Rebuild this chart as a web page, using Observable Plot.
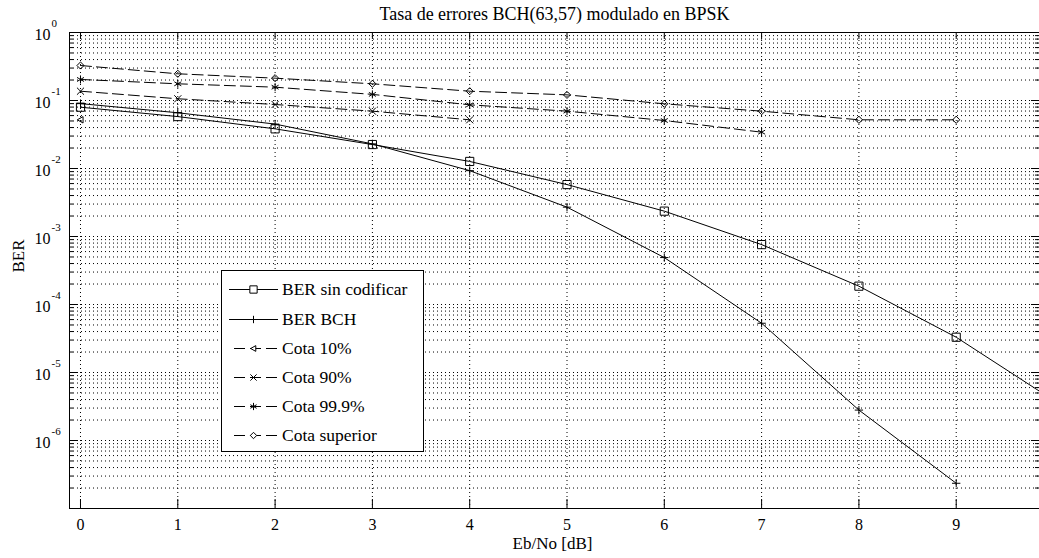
<!DOCTYPE html>
<html><head><meta charset="utf-8">
<script src="https://cdn.jsdelivr.net/npm/d3@7"></script>
<script src="https://cdn.jsdelivr.net/npm/@observablehq/plot@0.6"></script>
<style>
body{margin:0;background:#fff;}
#chart{position:relative;width:1039px;height:558px;overflow:hidden;}
#legend{position:absolute;left:221px;top:270px;}
</style></head><body><div id="chart"></div>
<script>
// ---- data ----
const ebno = [0, 1, 2, 3, 4, 5, 6, 7, 8, 9, 10];
const berUncoded = [0.0797, 0.058, 0.0383, 0.0225, 0.0127, 0.0058, 0.00236, 7.6e-4, 1.86e-4, 3.3e-5, 3.9e-6];
const berBCH = [0.09, 0.066, 0.045, 0.023, 0.0093, 0.0027, 4.9e-4, 5.3e-5, 2.8e-6, 2.35e-7];
const cota10 = [0.052];
const cota90 = [0.137, 0.106, 0.0873, 0.0697, 0.052];
const cota999 = [0.204, 0.176, 0.157, 0.123, 0.0864, 0.0697, 0.0508, 0.0342];
const cotaSup = [0.327, 0.247, 0.213, 0.176, 0.137, 0.121, 0.0894, 0.0697, 0.052, 0.052];
const seriesNames = ["BER sin codificar", "BER BCH", "Cota 10%", "Cota 90%", "Cota 99.9%", "Cota superior"];
const xTicks = [0, 1, 2, 3, 4, 5, 6, 7, 8, 9];
const yExponents = [0, -1, -2, -3, -4, -5, -6];
const titleText = "Tasa de errores BCH(63,57) modulado en BPSK";
const xLabelText = "Eb/No [dB]";
const yLabelText = "BER";

// ---- layout / style ----
const W = 1039, H = 558;
const mL = 69, mR = 0, mT = 32, mB = 50;
const xDomain = [-0.113, 9.856];
const yDomain = [1e-7, 1];
const innerW = W - mL - mR, innerH = H - mT - mB;
const FONT = "'Liberation Serif', 'Times New Roman', serif";
const DASH = "11,5";
const GRID_DASH = "1,3";

const triLeft = {
  draw(ctx, size) {
    const r = Math.sqrt(size / Math.PI);
    ctx.moveTo(-r, 0);
    ctx.lineTo(r * 0.8, -r);
    ctx.lineTo(r * 0.8, r);
    ctx.closePath();
  }
};

const series = [
  {name: seriesNames[0], values: berUncoded, dash: null, symbol: "square2", r: 5.2},
  {name: seriesNames[1], values: berBCH, dash: null, symbol: "plus", r: 2.8},
  {name: seriesNames[2], values: cota10, dash: DASH, symbol: triLeft, r: 3.2},
  {name: seriesNames[3], values: cota90, dash: DASH, symbol: "times", r: 3.3},
  {name: seriesNames[4], values: cota999, dash: DASH, symbol: "asterisk", r: 3.8},
  {name: seriesNames[5], values: cotaSup, dash: DASH, symbol: "diamond2", r: 3.2}
];
const d3symbols = {square2: d3.symbolSquare2, plus: d3.symbolPlus, times: d3.symbolTimes, asterisk: d3.symbolAsterisk, diamond2: d3.symbolDiamond2};

const rowsOf = s => s.values.map((v, i) => ({x: ebno[i], y: v}));

// log grid values
const majorY = yExponents.concat([-7]).map(e => 10 ** e);
const minorY = [];
for (let e = -7; e < 0; e++) for (let m = 2; m <= 9; m++) minorY.push(m * 10 ** e);
const gridY = majorY.concat(minorY);

const marks = [];
// grid
marks.push(Plot.ruleY(gridY, {stroke: "#000", strokeWidth: 1, strokeDasharray: GRID_DASH}));
marks.push(Plot.ruleX(xTicks, {stroke: "#000", strokeWidth: 1, strokeDasharray: GRID_DASH}));
// series
for (const s of series) {
  const rows = rowsOf(s);
  marks.push(Plot.line(rows, {x: "x", y: "y", stroke: "#000", strokeWidth: 1, strokeDasharray: s.dash, clip: true}));
  marks.push(Plot.dot(rows, {x: "x", y: "y", symbol: () => s.symbol, r: s.r, fill: "none", stroke: "#000", strokeWidth: 1, clip: true}));
}
// ticks (inward, MATLAB style)
marks.push(Plot.ruleY(majorY, {insetRight: innerW - 8, stroke: "#000"}));
marks.push(Plot.ruleY(minorY, {insetRight: innerW - 4, stroke: "#000"}));
marks.push(Plot.ruleY(majorY, {insetLeft: innerW - 8, stroke: "#000"}));
marks.push(Plot.ruleY(minorY, {insetLeft: innerW - 4, stroke: "#000"}));
marks.push(Plot.ruleX(xTicks, {insetTop: innerH - 9, stroke: "#000"}));
marks.push(Plot.ruleX(xTicks, {insetBottom: innerH - 7, stroke: "#000"}));
// axis box (left, top, bottom)
marks.push(Plot.ruleY([yDomain[1], yDomain[0]], {stroke: "#000"}));
marks.push(Plot.ruleX([xDomain[0]], {stroke: "#000"}));
// x tick labels
marks.push(Plot.text(xTicks, {x: d => d, frameAnchor: "bottom", lineAnchor: "bottom", dy: 21, text: d => String(d), fontSize: 16, fontFamily: FONT, fill: "#000"}));
// y tick labels 10^e
marks.push(Plot.text(yExponents, {y: e => 10 ** e, frameAnchor: "left", textAnchor: "end", lineAnchor: "bottom", dx: -19, dy: 7, text: () => "10", fontSize: 16, fontFamily: FONT, fill: "#000"}));
marks.push(Plot.text(yExponents, {y: e => 10 ** e, frameAnchor: "left", textAnchor: "start", lineAnchor: "bottom", dx: -18, dy: -6, text: e => String(e), fontSize: 11, fontFamily: FONT, fill: "#000"}));
// title & labels
marks.push(Plot.text([titleText], {frameAnchor: "top", lineAnchor: "bottom", dy: -13, text: d => d, fontSize: 18, fontFamily: FONT, fill: "#000"}));
marks.push(Plot.text([xLabelText], {frameAnchor: "bottom", lineAnchor: "bottom", dy: 40, dx: -2, text: d => d, fontSize: 17, fontFamily: FONT, fill: "#000"}));
marks.push(Plot.text([yLabelText], {frameAnchor: "left", lineAnchor: "middle", dx: -51, dy: 2, rotate: -90, text: d => d, fontSize: 17, fontFamily: FONT, fill: "#000"}));

const chart = Plot.plot({
  width: W, height: H,
  marginLeft: mL, marginRight: mR, marginTop: mT, marginBottom: mB,
  style: {fontFamily: FONT, background: "#fff", color: "#000"},
  x: {domain: xDomain, axis: null},
  y: {type: "log", domain: yDomain, axis: null},
  marks
});
document.getElementById("chart").appendChild(chart);

// ---- legend (drawn on top, inside the axes) ----
const LW = 202, LH = 181;
const lg = d3.create("svg").attr("id", "legend").attr("width", LW + 1).attr("height", LH + 1);
lg.append("rect").attr("x", 0.5).attr("y", 0.5).attr("width", LW).attr("height", LH).attr("fill", "#fff").attr("stroke", "#000");
series.forEach((s, i) => {
  const cy = Math.round(19.3 + i * 29.2) + 0.5;
  const g = lg.append("g");
  if (s.dash) {
    g.append("line").attr("x1", 13).attr("x2", 57).attr("y1", cy).attr("y2", cy).attr("stroke", "#000").attr("stroke-dasharray", s.dash);
  } else {
    g.append("line").attr("x1", 8).attr("x2", 57).attr("y1", cy).attr("y2", cy).attr("stroke", "#000");
  }
  const type = typeof s.symbol === "string" ? d3symbols[s.symbol] : s.symbol;
  g.append("path").attr("transform", `translate(32.5,${cy})`)
    .attr("d", d3.symbol(type, Math.PI * s.r * s.r * 0.8)())
    .attr("fill", "#fff").attr("stroke", "#000");
  g.append("text").attr("x", 61).attr("y", cy + 5.5).style("font-family", FONT).style("font-size", "17.5px").attr("fill", "#000").text(s.name);
});
document.getElementById("chart").appendChild(lg.node());
</script></body></html>
